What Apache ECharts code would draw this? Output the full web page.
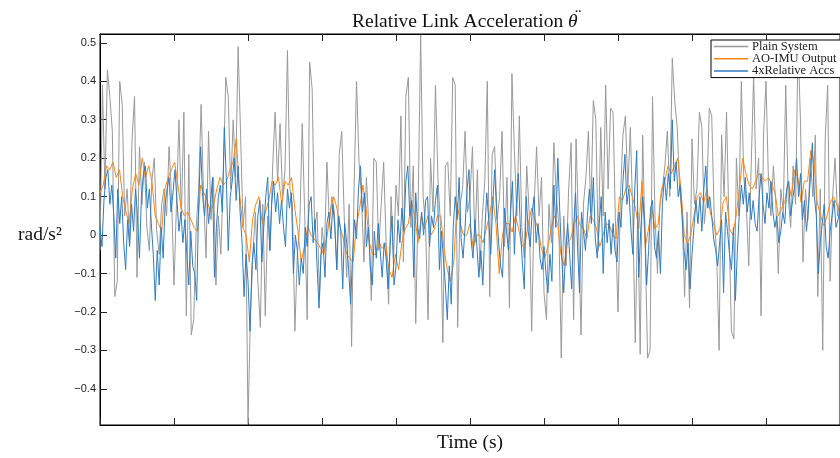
<!DOCTYPE html>
<html>
<head>
<meta charset="utf-8">
<script src="https://cdn.jsdelivr.net/npm/echarts@6/dist/echarts.min.js"></script>
<style>
  html, body { margin: 0; padding: 0; background: #fff; }
  #chart { width: 840px; height: 458px; }
</style>
</head>
<body>
<div id="chart"></div>
<script>
// time axis runs 0..10 s, tick every second (labels are not shown in the figure)
var tMax = 10;
var yTicks = [-0.4, -0.3, -0.2, -0.1, 0, 0.1, 0.2, 0.3, 0.4, 0.5];
var seriesNames = ["Plain System", "AO-IMU Output", "4xRelative Accs"];

// Plain System (grey)
var plainSystem = [
  -0.04, 0.39, 0.12, 0.43, 0.36, 0.27, -0.16, -0.12, 0.40, 0.34,
  0.05, 0.12, -0.02, 0.25, 0.36, -0.11, 0.23, 0.08, 0.19, 0.02,
  -0.04, 0.14, 0.20, 0.01, -0.05, 0.08, 0.12, 0.05, 0.23, 0.10,
  -0.13, 0.08, 0.30, 0.05, 0.32, -0.21, 0.21, -0.26, -0.22, 0.02,
  0.12, 0.34, 0.10, -0.06, 0.27, 0.04, 0.15, -0.13, 0.05, -0.05,
  0.16, 0.41, 0.36, 0.12, 0.30, 0.15, 0.49, 0.26, 0.02, 0.10,
  -0.49, -0.21, -0.05, 0.06, -0.12, -0.24, 0.08, -0.21, 0.05, -0.04,
  0.18, 0.32, 0.14, 0.29, 0.10, 0.17, 0.48, 0.12, 0.08, -0.25,
  -0.05, 0.03, 0.29, 0.05, -0.22, 0.45, 0.38, 0.02, 0.06, -0.16,
  0.02, -0.04, 0.19, 0.03, 0.10, 0.06, -0.09, 0.21, 0.27, 0.05,
  -0.11, 0.08, -0.29, 0.12, 0.40, 0.19, 0.10, -0.07, 0.15, 0.02,
  -0.17, 0.20, 0.19, -0.04, 0.08, 0.19, -0.02, -0.18, 0.10, -0.06,
  0.13, 0.05, 0.31, -0.07, 0.36, 0.41, 0.02, 0.18, -0.23, 0.09,
  0.52, 0.10, 0.02, -0.22, 0.20, 0.06, 0.39, 0.15, 0.03, -0.28,
  0.18, 0.19, 0.05, 0.41, 0.39, -0.24, 0.08, 0.12, 0.27, 0.06,
  0.10, 0.23, -0.02, 0.17, -0.09, 0.05, 0.14, 0.40, -0.16, 0.21,
  0.23, 0.04, 0.10, 0.27, -0.03, 0.15, -0.19, 0.42, 0.22, 0.05,
  0.31, 0.02, -0.06, 0.18, 0.06, -0.25, 0.08, 0.23, 0.05, 0.15,
  -0.15, -0.22, 0.08, -0.02, 0.24, 0.10, 0.03, -0.32, 0.05, -0.08,
  0.12, 0.24, -0.22, 0.25, 0.02, -0.26, 0.08, 0.15, 0.27, 0.06,
  0.35, 0.30, -0.04, 0.28, 0.05, 0.39, 0.12, 0.33, 0.32, 0.02,
  -0.20, 0.10, 0.26, 0.31, 0.12, 0.28, 0.05, -0.28, 0.06, -0.31,
  0.26, -0.02, -0.32, -0.30, 0.36, 0.05, -0.10, 0.08, 0.12, 0.18,
  0.27, 0.10, 0.46, 0.35, 0.28, 0.12, 0.05, -0.16, 0.06, -0.19,
  0.25, 0.08, 0.12, 0.32, 0.28, 0.03, 0.10, 0.33, 0.31, 0.05,
  -0.05, -0.30, 0.26, 0.10, 0.32, 0.02, -0.25, -0.27, 0.20, 0.05,
  0.40, 0.15, 0.08, -0.08, 0.18, 0.42, 0.12, 0.20, -0.21, 0.26,
  0.40, 0.14, 0.05, 0.18, 0.08, -0.10, 0.12, 0.06, 0.39, 0.10,
  0.02, 0.18, 0.08, 0.50, 0.29, -0.07, 0.12, 0.04, 0.20, 0.10,
  0.26, -0.16, 0.12, -0.30, 0.25, 0.39, -0.12, 0.10, 0.20, 0.05,
  0.10
];

// AO-IMU Output (orange)
var aoImu = [
  0.11, 0.13, 0.18, 0.17, 0.19, 0.15, 0.17, 0.10, 0.06, 0.03,
  0.12, 0.16, 0.13, 0.20, 0.15, 0.18, 0.14, 0.05, 0.03, 0.01,
  0.12, 0.15, 0.17, 0.19, 0.13, 0.07, 0.05, 0.06, 0.04, 0.02,
  0.01, 0.13, 0.11, 0.09, 0.06, 0.08, 0.12,
  0.15, 0.13, 0.14, 0.17, 0.19, 0.25, 0.11, 0.02, 0.0, -0.07,
  0.04, 0.08, 0.10, 0.03, 0.06, 0.09, 0.14, 0.13, 0.15, 0.08,
  0.14, 0.13, 0.15, 0.07, 0.01, -0.07, -0.03, 0.025, 0.0, -0.01,
  -0.02, -0.035, -0.05, 0.0, 0.06, 0.10, 0.07, 0.02,
  -0.01, -0.05, -0.06, -0.07, 0.025, 0.07, 0.13, 0.07, -0.02, -0.05,
  -0.05, -0.02, -0.035, -0.02, -0.09, -0.11, -0.05, -0.09, -0.02, 0.016,
  0.03, 0.085, 0.05, -0.02, 0.05, 0.016, 0.05, 0.0, 0.016, 0.05,
  0.05, -0.035, -0.09, -0.12, -0.07, 0.085, 0.03, 0.0,
  0.0, 0.03, -0.035, 0.0, 0.0, -0.02, 0.016, 0.05, 0.10, 0.03,
  -0.10, 0.0, 0.03, 0.03, 0.008, 0.05, 0.016, -0.03, -0.02, 0.03,
  0.07, 0.04, 0.016, -0.035, -0.06, -0.03, 0.016, 0.05, 0.03, -0.05,
  -0.08, -0.02, -0.01, 0.025, 0.05, 0.025, 0.016,
  -0.01, 0.05, 0.04, 0.016, -0.03, 0.0, 0.03, 0.025, 0.0, -0.01,
  0.10, 0.09, 0.12, 0.13, 0.10, 0.07, 0.016, 0.14, -0.03, 0.016,
  0.07, 0.016, 0.03, 0.12, 0.14, 0.18, 0.16, 0.18, 0.20, 0.12,
  0.0, -0.02, 0.0, 0.05, 0.10, 0.11, 0.085,
  0.12, 0.06, 0.03, 0.0, 0.016, 0.085, 0.10, 0.016, 0.0, 0.05,
  0.12, 0.20, 0.16, 0.13, 0.12, 0.14, 0.16, 0.15, 0.14, 0.15,
  0.13, 0.11, 0.05, 0.07, 0.085, 0.14, 0.10, 0.17, 0.15, 0.085,
  0.14, 0.14, 0.22, 0.19, 0.085, 0.05, 0.025, 0.05, 0.085, 0.10,
  0.08, 0.06
];

// 4xRelative Accs (blue)
var relAccs = [
  0.02, -0.03, 0.09, 0.15, 0.17, 0.08, 0.13, 0.05, -0.06, 0.12,
  0.03, 0.10, -0.02, -0.09, 0.04, -0.03, 0.08, 0.01, 0.12, 0.05,
  -0.06, 0.10, 0.16, 0.18, 0.07,
  0.12, 0.03, -0.05, -0.17, -0.04, -0.13, 0.02, -0.06, 0.08, 0.12,
  0.15, 0.06, 0.11, 0.17, 0.09, 0.01, 0.06, -0.02, 0.04, -0.05,
  -0.13, 0.01, -0.08, -0.10, -0.17,
  0.08, 0.23, 0.10, 0.05, 0.12, 0.03, 0.08, 0.15, -0.11, 0.02,
  0.10, 0.13, 0.06, 0.28, 0.15, -0.04, 0.10, 0.14, 0.20, 0.09,
  0.18, 0.06, -0.02, -0.16, -0.05,
  -0.12, -0.25, -0.08, -0.02, -0.09, 0.05, 0.09, -0.07, 0.02, 0.10,
  0.15, -0.04, 0.08, 0.14, 0.06, 0.11, 0.03, 0.09, 0.02, -0.03,
  0.12, 0.07, 0.11, -0.10, 0.00,
  -0.04, -0.13, -0.06, -0.10, 0.02, -0.03, 0.08, 0.10, -0.02, 0.04,
  -0.08, -0.19, -0.05, -0.02, -0.11, 0.03, 0.06, -0.01, 0.08, 0.02,
  -0.09, 0.05, 0.01, -0.14, 0.03,
  -0.02, -0.09, -0.18, -0.05, 0.04, -0.01, 0.12, 0.18, 0.06, 0.11,
  -0.03, 0.02, -0.08, -0.13, 0.01, -0.06, 0.03, -0.04, -0.11, -0.02,
  -0.06, -0.14, -0.03, 0.05, -0.13,
  -0.08, 0.04, -0.02, 0.07, 0.01, 0.14, 0.18, 0.05, 0.09, -0.11,
  0.11, 0.02, -0.01, 0.06, 0.00, 0.09, 0.10, -0.03, 0.05, 0.02,
  0.09, 0.13, -0.09, 0.01, -0.06,
  -0.13, -0.22, -0.08, -0.18, 0.02, 0.10, 0.04, 0.15, -0.01, -0.06,
  0.02, 0.12, 0.17, -0.01, -0.06, 0.04, -0.03, -0.11, -0.04, -0.13,
  0.01, 0.11, 0.04, -0.05, 0.08,
  0.17, 0.06, -0.02, -0.08, -0.11, 0.07, 0.01, -0.04, 0.05, 0.14,
  -0.05, 0.08, 0.16, 0.02, -0.07, -0.14, 0.10, 0.01, -0.03, 0.06,
  0.10, -0.02, 0.03, -0.06, -0.09,
  -0.03, -0.10, -0.15, -0.05, -0.12, 0.13, 0.02, 0.20, 0.06, -0.06,
  -0.15, -0.04, 0.03, -0.05, -0.14, 0.02, 0.11, -0.03, -0.15, 0.06,
  0.01, -0.04, 0.05, 0.12, 0.03,
  0.15, -0.01, -0.06, 0.03, 0.10, -0.10, 0.06, -0.02, 0.04, -0.05,
  0.03, -0.04, -0.07, 0.06, 0.02, 0.14, 0.21, 0.08, 0.12, 0.02,
  -0.05, 0.12, 0.22, -0.11, 0.01,
  0.10, 0.04, -0.13, -0.04, 0.07, 0.09, -0.03, -0.06, 0.01, -0.10,
  0.08, 0.15, 0.09, 0.16, 0.12, 0.30, 0.14, 0.19, 0.10, 0.13,
  0.05, -0.04, -0.09, -0.02, -0.14,
  -0.05, 0.02, 0.09, 0.03, 0.10, 0.01, 0.12, 0.18, 0.07, 0.10,
  0.05, -0.01, -0.04, -0.08, -0.02, 0.04, -0.15, 0.06, 0.01, -0.05,
  -0.09, 0.02, -0.17, -0.04, 0.06,
  0.13, 0.08, 0.15, 0.06, 0.11, 0.04, 0.09, 0.03, 0.01, 0.10,
  0.16, 0.08, 0.03, 0.11, 0.07, 0.14, 0.06, 0.02, 0.05, -0.02,
  0.01, 0.06, 0.03, 0.12, 0.14,
  0.05, 0.09, 0.13, 0.20, 0.10, 0.16, 0.04, 0.09, 0.01, 0.07,
  0.15, 0.24, 0.10, 0.05, -0.10, -0.02, 0.03, 0.08, -0.03, -0.06,
  0.01, 0.05, 0.09, 0.02, 0.04, 0.07
];

function toPairs(values) {
  var step = tMax / (values.length - 1);
  return values.map(function (v, i) {
    return [i * step, v];
  });
}

function fmtTick(v) {
  var s = String(Math.round(v * 10) / 10);
  return s.replace("-", "\u2212");
}

var chart = echarts.init(document.getElementById("chart"), null, { renderer: "canvas" });

var axisBase = {
  type: "value",
  min: 0,
  max: tMax,
  interval: 1,
  axisLine: { show: true, onZero: false, lineStyle: { color: "#000", width: 1 } },
  axisTick: { show: true, inside: true, length: 7, lineStyle: { color: "#222" } },
  axisLabel: { show: false },
  splitLine: { show: false }
};

var option = {
  animation: false,
  backgroundColor: "#fff",
  title: [
    {
      text: "Relative Link Acceleration {th|θ}",
      left: 347,
      top: 7,
      textStyle: {
        fontFamily: "Liberation Serif",
        fontSize: 19.5,
        fontWeight: "normal",
        color: "#111",
        rich: {
          th: { fontFamily: "Liberation Serif", fontSize: 19.5, fontStyle: "italic", color: "#111" }
        }
      }
    },
    {
      // the two dots over theta
      text: "¨",
      left: 570,
      top: 3,
      textStyle: { fontFamily: "Liberation Serif", fontSize: 19, fontWeight: "normal", color: "#111" }
    },
    {
      text: "rad/s²",
      left: 13,
      top: 220,
      textStyle: { fontFamily: "Liberation Serif", fontSize: 19.5, fontWeight: "normal", color: "#111" }
    }
  ],
  legend: {
    data: seriesNames,
    orient: "vertical",
    left: 711,
    top: 40,
    padding: [0, 6, 0, 3],
    itemGap: -0.7,
    itemWidth: 34,
    itemHeight: 1.5,
    icon: "rect",
    backgroundColor: "#fff",
    borderColor: "#000",
    borderWidth: 1,
    borderRadius: 0,
    textStyle: { fontFamily: "Liberation Serif", fontSize: 12.5, color: "#222", lineHeight: 11.5, padding: [0, 0, 0, -1] }
  },
  grid: {
    left: 100,
    top: 34,
    right: -10,
    bottom: 30,
    show: true,
    borderColor: "#000",
    borderWidth: 1,
    backgroundColor: "#fff",
    containLabel: false
  },
  xAxis: [
    Object.assign({}, axisBase, {
      position: "bottom",
      name: "Time (s)",
      nameLocation: "middle",
      nameGap: 8,
      nameTextStyle: { fontFamily: "Liberation Serif", fontSize: 19.5, color: "#111", verticalAlign: "top" }
    }),
    Object.assign({}, axisBase, { position: "top" })
  ],
  yAxis: {
    type: "value",
    min: -0.494,
    max: 0.523,
    axisLine: { show: true, onZero: false, lineStyle: { color: "#000", width: 1 } },
    axisTick: { show: true, inside: true, length: 7, customValues: yTicks, lineStyle: { color: "#222" } },
    axisLabel: {
      show: true,
      customValues: yTicks,
      margin: 4,
      fontFamily: "Liberation Sans",
      fontSize: 11,
      color: "#222",
      formatter: fmtTick
    },
    splitLine: { show: false }
  },
  series: [
    {
      name: seriesNames[0],
      type: "line",
      data: toPairs(plainSystem),
      showSymbol: false,
      symbol: "none",
      color: "#999999",
      lineStyle: { width: 1, color: "#999999" },
      z: 2
    },
    {
      name: seriesNames[1],
      type: "line",
      data: toPairs(aoImu),
      showSymbol: false,
      symbol: "none",
      color: "#ff8410",
      lineStyle: { width: 1, color: "#ff8410" },
      z: 3
    },
    {
      name: seriesNames[2],
      type: "line",
      data: toPairs(relAccs),
      showSymbol: false,
      symbol: "none",
      color: "#2f7cbf",
      lineStyle: { width: 1, color: "#2f7cbf" },
      z: 4
    }
  ]
};

chart.setOption(option);
</script>
</body>
</html>
